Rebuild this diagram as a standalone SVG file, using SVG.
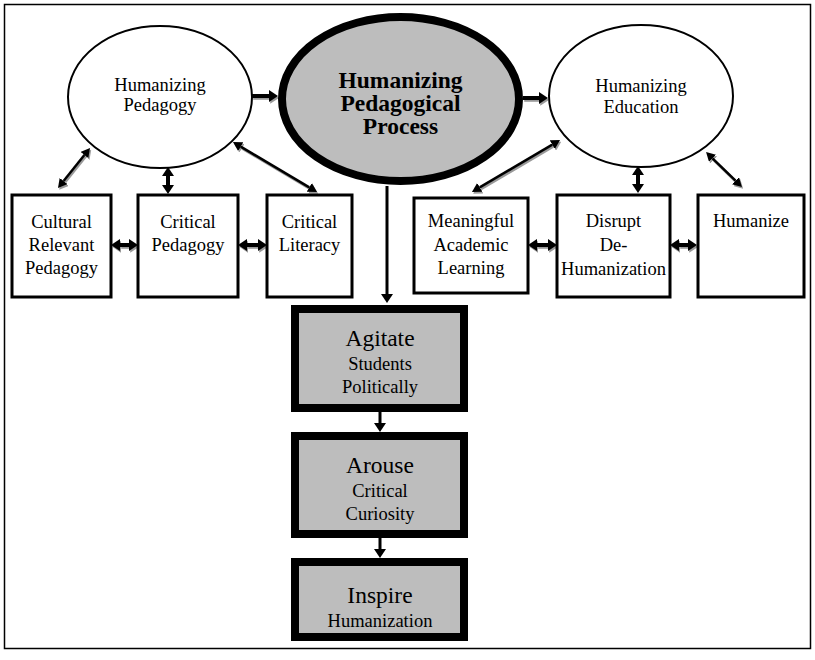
<svg xmlns="http://www.w3.org/2000/svg" width="815" height="660" viewBox="0 0 815 660">
<style>
text{font-size:18.5px;fill:#000;text-anchor:middle}
.big{font-size:23.5px}
.bold{font-weight:bold;font-size:23.5px}
.ell{fill:#fff;stroke:#000;stroke-width:2}
.box{fill:#fff;stroke:#000;stroke-width:3}
.gbox{fill:#bdbdbd;stroke:#000;stroke-width:8}
.thick{stroke:#000;stroke-width:4;fill:none;marker-end:url(#hb)}
.thickd{stroke:#000;stroke-width:4;fill:none;marker-start:url(#hb);marker-end:url(#hb)}
.thin{stroke:#000;stroke-width:2.5;fill:none;marker-start:url(#ht);marker-end:url(#ht)}
.sh .thick,.sh .thickd,.sh .thin{stroke:#9a9a9a}
.sh .thick{marker-end:url(#hbg)}
.sh .thickd{marker-start:url(#hbg);marker-end:url(#hbg)}
.sh .thin{marker-start:url(#htg);marker-end:url(#htg)}
.line{stroke:#000;stroke-width:3;fill:none;marker-end:url(#hb)}
</style>
<defs>
<marker id="hb" markerUnits="userSpaceOnUse" viewBox="0 -6 9 12" markerWidth="9" markerHeight="12" refX="0" refY="0" orient="auto-start-reverse"><path d="M0,-6 L9,0 L0,6 z" fill="#000"/></marker>
<marker id="hbg" markerUnits="userSpaceOnUse" viewBox="0 -6 9 12" markerWidth="9" markerHeight="12" refX="0" refY="0" orient="auto-start-reverse"><path d="M0,-6 L9,0 L0,6 z" fill="#9a9a9a"/></marker>
<marker id="ht" markerUnits="userSpaceOnUse" viewBox="0 -5 9 10" markerWidth="9" markerHeight="10" refX="0" refY="0" orient="auto-start-reverse"><path d="M0,-5 L9,0 L0,5 z" fill="#000"/></marker>
<marker id="htg" markerUnits="userSpaceOnUse" viewBox="0 -5 9 10" markerWidth="9" markerHeight="10" refX="0" refY="0" orient="auto-start-reverse"><path d="M0,-5 L9,0 L0,5 z" fill="#9a9a9a"/></marker>
</defs>
<rect x="4.5" y="4.5" width="806" height="644" fill="#fff" stroke="#000" stroke-width="1.5"/>

<g id="connectors">
<g class="sh" transform="translate(1.2,1.8)">
<path class="thick" d="M252,96 H269"/>
<path class="thick" d="M523,98 H539"/>
<path class="thickd" d="M120,245 H129"/>
<path class="thickd" d="M247,245 H258"/>
<path class="thickd" d="M537,245 H548"/>
<path class="thickd" d="M679,245 H688"/>
<path class="thin" d="M63.6,181 L84.4,155"/>
<path class="thin" d="M240.7,146.6 L309.3,187.4"/>
<path class="thin" d="M552.3,144.6 L479.7,187.4"/>
<path class="thin" d="M712.5,158.3 L735.5,180.7"/>
</g>
<path class="thick" d="M252,96 H269"/>
<path class="thick" d="M523,98 H539"/>
<path class="thickd" d="M120,245 H129"/>
<path class="thickd" d="M247,245 H258"/>
<path class="thickd" d="M537,245 H548"/>
<path class="thickd" d="M679,245 H688"/>
<path class="thin" d="M63.6,181 L84.4,155"/>
<path class="thin" d="M240.7,146.6 L309.3,187.4"/>
<path class="thin" d="M552.3,144.6 L479.7,187.4"/>
<path class="thin" d="M712.5,158.3 L735.5,180.7"/>
<path class="thickd" d="M168,176 V185"/>
<path class="thickd" d="M638,175 V184"/>
<path class="line" d="M387,186 V294"/>
<path class="line" d="M380,412 V423"/>
<path class="line" d="M380,538 V549"/>
</g>

<g id="humanizing-pedagogy">
<ellipse class="ell" cx="160" cy="97" rx="92" ry="71"/>
<text font-family="Liberation Serif" x="160" y="91">Humanizing</text>
<text font-family="Liberation Serif" x="160" y="111">Pedagogy</text>
</g>
<g id="humanizing-pedagogical-process">
<ellipse cx="400.5" cy="99" rx="118.5" ry="82" fill="#bdbdbd" stroke="#000" stroke-width="8"/>
<text font-family="Liberation Serif" class="bold" x="400.5" y="88">Humanizing</text>
<text font-family="Liberation Serif" class="bold" x="400.5" y="111">Pedagogical</text>
<text font-family="Liberation Serif" class="bold" x="400.5" y="134">Process</text>
</g>
<g id="humanizing-education">
<ellipse class="ell" cx="641" cy="96" rx="92" ry="71"/>
<text font-family="Liberation Serif" x="641" y="92">Humanizing</text>
<text font-family="Liberation Serif" x="641" y="113">Education</text>
</g>

<g id="cultural-relevant-pedagogy">
<rect class="box" x="12" y="195" width="99" height="102"/>
<text font-family="Liberation Serif" x="61.5" y="228">Cultural</text>
<text font-family="Liberation Serif" x="61.5" y="251">Relevant</text>
<text font-family="Liberation Serif" x="61.5" y="274">Pedagogy</text>
</g>
<g id="critical-pedagogy">
<rect class="box" x="138" y="195" width="100" height="102"/>
<text font-family="Liberation Serif" x="188" y="228">Critical</text>
<text font-family="Liberation Serif" x="188" y="251">Pedagogy</text>
</g>
<g id="critical-literacy">
<rect class="box" x="267" y="195" width="85" height="102"/>
<text font-family="Liberation Serif" x="309.5" y="228">Critical</text>
<text font-family="Liberation Serif" x="309.5" y="251">Literacy</text>
</g>
<g id="meaningful-academic-learning">
<rect class="box" x="414" y="198" width="114" height="95"/>
<text font-family="Liberation Serif" x="471" y="227">Meaningful</text>
<text font-family="Liberation Serif" x="471" y="251">Academic</text>
<text font-family="Liberation Serif" x="471" y="274">Learning</text>
</g>
<g id="disrupt-dehumanization">
<rect class="box" x="557" y="195" width="113" height="102"/>
<text font-family="Liberation Serif" x="613.5" y="227">Disrupt</text>
<text font-family="Liberation Serif" x="613.5" y="251">De-</text>
<text font-family="Liberation Serif" x="613.5" y="275">Humanization</text>
</g>
<g id="humanize">
<rect class="box" x="698" y="195" width="106" height="102"/>
<text font-family="Liberation Serif" x="751" y="227">Humanize</text>
</g>

<g id="agitate">
<rect class="gbox" x="295" y="309" width="169" height="99"/>
<text font-family="Liberation Serif" class="big" x="380" y="346">Agitate</text>
<text font-family="Liberation Serif" x="380" y="370">Students</text>
<text font-family="Liberation Serif" x="380" y="393">Politically</text>
</g>
<g id="arouse">
<rect class="gbox" x="295" y="436" width="169" height="98"/>
<text font-family="Liberation Serif" class="big" x="380" y="473">Arouse</text>
<text font-family="Liberation Serif" x="380" y="497">Critical</text>
<text font-family="Liberation Serif" x="380" y="520">Curiosity</text>
</g>
<g id="inspire">
<rect class="gbox" x="295" y="562" width="169" height="75"/>
<text font-family="Liberation Serif" class="big" x="380" y="603">Inspire</text>
<text font-family="Liberation Serif" x="380" y="627">Humanization</text>
</g>
</svg>
